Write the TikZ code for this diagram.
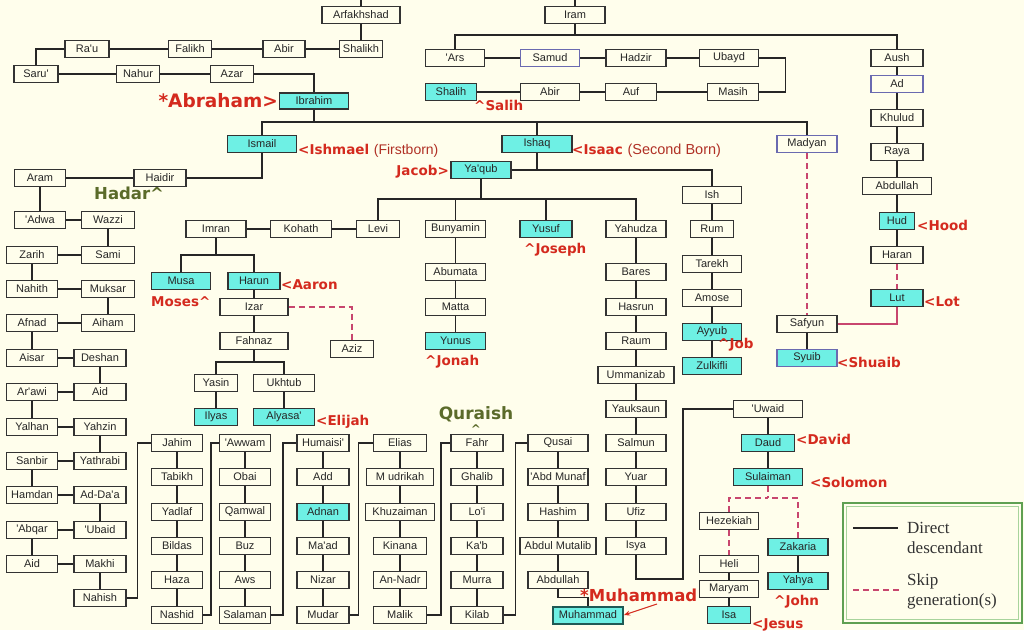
\documentclass[tikz,border=0pt]{standalone}
\usepackage{fontspec}
\newfontfamily\boxf{Liberation Sans}
\newfontfamily\labf{DejaVu Sans}
\newfontfamily\regf{Liberation Sans}
\newfontfamily\legf{Liberation Serif}
\usetikzlibrary{arrows.meta}
\definecolor{bgc}{HTML}{FFFEEC}
\definecolor{cyc}{HTML}{6EF0E4}
\definecolor{boxc}{HTML}{333333}
\definecolor{bluec}{HTML}{6A6AB0}
\definecolor{redc}{HTML}{D42A1E}
\definecolor{redd}{HTML}{B03025}
\definecolor{olivec}{HTML}{5B6B2A}
\definecolor{dashc}{HTML}{C8466E}
\definecolor{legc}{HTML}{5FA052}
\definecolor{legl}{HTML}{A8D49C}
\definecolor{tealc}{HTML}{1F5A55}
\tikzset{
  bx/.style={draw=boxc, line width=1.1pt, fill=bgc, minimum height=17pt, inner sep=0pt,
     font=\boxf\fontsize{11}{12}\selectfont, text=black!85},
  cy/.style={bx, fill=cyc},
  bl/.style={draw=bluec},
  wd/.style={minimum width=#1pt},
  ln/.style={line width=1.8pt, black!85},
  dl/.style={line width=1.8pt, dashc, dash pattern=on 6pt off 4pt},
  lab/.style={text=redc, inner sep=0pt, font=\labf\bfseries\fontsize{13.5}{15}\selectfont},
  labbig/.style={text=redc, inner sep=0pt, font=\labf\bfseries\fontsize{18.5}{20}\selectfont},
  olab/.style={text=olivec, inner sep=0pt, font=\labf\bfseries\fontsize{16.5}{18}\selectfont},
  legt/.style={text=black!80, inner sep=0pt, align=left, font=\legf\fontsize{17}{20}\selectfont}
}
\begin{document}
\begin{tikzpicture}[x=1pt,y=-1pt]
\fill[bgc] (0,0) rectangle (1024,630);
\useasboundingbox (0,0) rectangle (1024,630);

% ---- top
\node[bx,wd=78] (arf) at (361,15) {Arfakhshad};
\node[bx,wd=60] (iram) at (575,15) {Iram};
\node[bx,wd=43] (shalikh) at (361,49) {Shalikh};
\node[bx,wd=42] (abirL) at (284,49) {Abir};
\node[bx,wd=43] (falikh) at (190,49) {Falikh};
\node[bx,wd=44] (rau) at (87,49) {Ra'u};
\node[bx,wd=44] (saru) at (36,74) {Saru'};
\node[bx,wd=43] (nahur) at (138,74) {Nahur};
\node[bx,wd=43] (azar) at (232,74) {Azar};
\node[cy,wd=69,minimum height=16pt] (ibrahim) at (314,101) {Ibrahim};
\node[cy,wd=69] (ismail) at (262,144) {Ismail};
\node[cy,wd=70] (ishaq) at (537,144) {Ishaq};
\node[cy,wd=60] (yaqub) at (481,170) {Ya'qub};
\node[bx,bl,wd=60] (madyan) at (807,144) {Madyan};
\node[bx,wd=59] (ish) at (712,195) {Ish};
\node[bx,wd=52] (haidir) at (160,178) {Haidir};
\node[bx,wd=51] (aram) at (40,178) {Aram};

% ---- Iram branch
\node[bx,wd=59] (ars) at (455,58) {'Ars};
\node[bx,bl,wd=59] (samud) at (550,58) {Samud};
\node[bx,wd=60] (hadzir) at (636,58) {Hadzir};
\node[bx,wd=59] (ubayd) at (729,58) {Ubayd};
\node[bx,wd=51] (masih) at (733,92) {Masih};
\node[bx,wd=51] (auf) at (631,92) {Auf};
\node[bx,wd=59] (abirR) at (550,92) {Abir};
\node[cy,wd=51] (shalih) at (451,92) {Shalih};
\node[bx,wd=52] (aush) at (897,58) {Aush};
\node[bx,bl,wd=52] (ad) at (897,84) {Ad};
\node[bx,wd=52] (khulud) at (897,118) {Khulud};
\node[bx,wd=52] (raya) at (897,152) {Raya};
\node[bx,wd=69] (abdullahR) at (897,186) {Abdullah};
\node[cy,wd=35] (hud) at (897,221) {Hud};
\node[bx,wd=52] (haran) at (897,255) {Haran};
\node[cy,wd=52] (lut) at (897,298) {Lut};
\node[bx,wd=60] (safyun) at (807,324) {Safyun};
\node[cy,bl,wd=60] (syuib) at (807,358) {Syuib};

% ---- Ish column
\node[bx,wd=43] (rum) at (712,229) {Rum};
\node[bx,wd=59] (tarekh) at (712,264) {Tarekh};
\node[bx,wd=59] (amose) at (712,298) {Amose};
\node[cy,wd=59] (ayyub) at (712,332) {Ayyub};
\node[cy,wd=59] (zulkifli) at (712,366) {Zulkifli};

% ---- Ya'qub children
\node[bx,wd=43] (levi) at (378,229) {Levi};
\node[bx,wd=61] (kohath) at (301,229) {Kohath};
\node[bx,wd=60] (imran) at (216,229) {Imran};
\node[bx,wd=60] (bunyamin) at (455.5,229) {Bunyamin};
\node[cy,wd=52] (yusuf) at (546,229) {Yusuf};
\node[bx,wd=60] (yahudza) at (636,229) {Yahudza};
\node[bx,wd=60] (abumata) at (455.5,272) {Abumata};
\node[bx,wd=60] (matta) at (455.5,307) {Matta};
\node[cy,wd=60] (yunus) at (455.5,341) {Yunus};
\node[bx,wd=60] (bares) at (636,272) {Bares};
\node[bx,wd=60] (hasrun) at (636,307) {Hasrun};
\node[bx,wd=60] (raum) at (636,341) {Raum};
\node[bx,wd=76] (ummanizab) at (636,375) {Ummanizab};
\node[bx,wd=60] (yauksaun) at (636,409) {Yauksaun};
\node[bx,wd=60] (salmun) at (636,443) {Salmun};
\node[bx,wd=60] (yuar) at (636,477) {Yuar};
\node[bx,wd=60] (ufiz) at (636,512) {Ufiz};
\node[bx,wd=60] (isya) at (636,546) {Isya};

% ---- 'Uwaid branch
\node[bx,wd=69] (uwaid) at (768,409) {'Uwaid};
\node[cy,wd=53] (daud) at (768,443) {Daud};
\node[cy,wd=69] (sulaiman) at (768,477) {Sulaiman};
\node[bx,wd=59] (hezekiah) at (729,521) {Hezekiah};
\node[bx,wd=59] (heli) at (729,564) {Heli};
\node[bx,wd=59] (maryam) at (729,589) {Maryam};
\node[cy,wd=43] (isa) at (729,615) {Isa};
\node[cy,wd=60] (zakaria) at (798,547) {Zakaria};
\node[cy,wd=60] (yahya) at (798,581) {Yahya};

% ---- Imran branch
\node[cy,wd=59] (musa) at (181,281) {Musa};
\node[cy,wd=52] (harun) at (254,281) {Harun};
\node[bx,wd=68] (izar) at (254,307) {Izar};
\node[bx,wd=43] (aziz) at (352,349) {Aziz};
\node[bx,wd=68] (fahnaz) at (254,341) {Fahnaz};
\node[bx,wd=43] (yasin) at (216,383) {Yasin};
\node[bx,wd=61] (ukhtub) at (284,383) {Ukhtub};
\node[cy,wd=43] (ilyas) at (216,417) {Ilyas};
\node[cy,wd=61] (alyasa) at (284,417) {Alyasa'};

% ---- left zigzag
\node[bx,wd=51] (adwa) at (40,220) {'Adwa};
\node[bx,wd=53] (wazzi) at (108,220) {Wazzi};
\node[bx,wd=53] (sami) at (108,255) {Sami};
\node[bx,wd=51] (zarih) at (32,255) {Zarih};
\node[bx,wd=51] (nahith) at (32,289) {Nahith};
\node[bx,wd=53] (muksar) at (108,289) {Muksar};
\node[bx,wd=53] (aiham) at (108,323) {Aiham};
\node[bx,wd=51] (afnad) at (32,323) {Afnad};
\node[bx,wd=51] (aisar) at (32,358) {Aisar};
\node[bx,wd=52] (deshan) at (100,358) {Deshan};
\node[bx,wd=52] (aidU) at (100,392) {Aid};
\node[bx,wd=51] (arawi) at (32,392) {Ar'awi};
\node[bx,wd=51] (yalhan) at (32,427) {Yalhan};
\node[bx,wd=52] (yahzin) at (100,427) {Yahzin};
\node[bx,wd=52] (yathrabi) at (100,461) {Yathrabi};
\node[bx,wd=51] (sanbir) at (32,461) {Sanbir};
\node[bx,wd=51] (hamdan) at (32,495) {Hamdan};
\node[bx,wd=52] (addaa) at (100,495) {Ad-Da'a};
\node[bx,wd=52] (ubaid) at (100,530) {'Ubaid};
\node[bx,wd=51] (abqar) at (32,530) {'Abqar};
\node[bx,wd=51] (aidL) at (32,564) {Aid};
\node[bx,wd=52] (makhi) at (100,564) {Makhi};
\node[bx,wd=52] (nahish) at (100,598) {Nahish};

% ---- bottom columns
\node[bx,wd=51] (jahim) at (177,443) {Jahim};
\node[bx,wd=51] (tabikh) at (177,477) {Tabikh};
\node[bx,wd=51] (yadlaf) at (177,512) {Yadlaf};
\node[bx,wd=51] (bildas) at (177,546) {Bildas};
\node[bx,wd=51] (haza) at (177,580) {Haza};
\node[bx,wd=51] (nashid) at (177,615) {Nashid};
\node[bx,wd=51] (awwam) at (245,443) {'Awwam};
\node[bx,wd=51] (obai) at (245,477) {Obai};
\node[bx,wd=51] (qamwal) at (245,512) {Qamwal};
\node[bx,wd=51] (buz) at (245,546) {Buz};
\node[bx,wd=51] (aws) at (245,580) {Aws};
\node[bx,wd=51] (salaman) at (245,615) {Salaman};
\node[bx,wd=52] (humaisi) at (323,443) {Humaisi'};
\node[bx,wd=52] (add) at (323,477) {Add};
\node[cy,wd=52] (adnan) at (323,512) {Adnan};
\node[bx,wd=52] (maad) at (323,546) {Ma'ad};
\node[bx,wd=52] (nizar) at (323,580) {Nizar};
\node[bx,wd=52] (mudar) at (323,615) {Mudar};
\node[bx,wd=53] (elias) at (400,443) {Elias};
\node[bx,wd=67] (mudrikah) at (400,477) {M udrikah};
\node[bx,wd=69] (khuzaiman) at (400,512) {Khuzaiman};
\node[bx,wd=53] (kinana) at (400,546) {Kinana};
\node[bx,wd=53] (annadr) at (400,580) {An-Nadr};
\node[bx,wd=53] (malik) at (400,615) {Malik};
\node[bx,wd=52] (fahr) at (477,443) {Fahr};
\node[bx,wd=52] (ghalib) at (477,477) {Ghalib};
\node[bx,wd=52] (loi) at (477,512) {Lo'i};
\node[bx,wd=52] (kab) at (477,546) {Ka'b};
\node[bx,wd=52] (murra) at (477,580) {Murra};
\node[bx,wd=52] (kilab) at (477,615) {Kilab};
\node[bx,wd=60] (qusai) at (558,443) {Qusai};
\node[bx,wd=60] (abdmunaf) at (558,477) {'Abd Munaf};
\node[bx,wd=60] (hashim) at (558,512) {Hashim};
\node[bx,wd=76] (abdmutalib) at (558,546) {Abdul Mutalib};
\node[bx,wd=60] (abdullahM) at (558,580) {Abdullah};
\node[cy,wd=70,draw=tealc,line width=2pt] (muhammad) at (588,615) {Muhammad};

% ---- connectors: top
\coordinate (arfTop) at (361,0);
\coordinate (iramTop) at (575,0);
\draw[ln] (arf.north) -- (arfTop);
\draw[ln] (iram.north) -- (iramTop);
\foreach \a/\b in {arf/shalikh, shalikh/abirL, abirL/falikh, falikh/rau, saru/nahur, nahur/azar}
  \draw[ln] (\a) -- (\b);
\draw[ln] (rau.west) -| (saru.north);
\draw[ln] (azar.east) -| (ibrahim.north);
\coordinate (ab) at (314,122);
\draw[ln] (ibrahim.south) -- (ab);
\draw[ln] (ismail.north) |- (ab);
\draw[ln] (ab) -| (madyan.north);
\draw[ln] (ishaq.north) -- (ishaq.north |- ab);
\draw[ln] (ismail.south) |- (haidir.east);
\draw[ln] (haidir) -- (aram);
\draw[ln] (aram) -- (adwa);
\draw[ln] (ishaq.south) |- (yaqub.east);
\draw[ln] (yaqub.east) -| (ish.north);
\coordinate (yb) at (481,199);
\draw[ln] (yaqub.south) -- (yb);
\draw[ln] (levi.north) |- (yb);
\draw[ln] (yahudza.north) |- (yb);
\draw[ln] (bunyamin.north) -- (bunyamin.north |- yb);
\draw[ln] (yusuf.north) -- (yusuf.north |- yb);
\foreach \a/\b in {levi/kohath, kohath/imran, harun/izar, izar/fahnaz, yasin/ilyas, ukhtub/alyasa,
  bunyamin/abumata, abumata/matta, matta/yunus,
  yahudza/bares, bares/hasrun, hasrun/raum, raum/ummanizab, ummanizab/yauksaun, yauksaun/salmun,
  salmun/yuar, yuar/ufiz, ufiz/isya,
  ish/rum, rum/tarekh, tarekh/amose, amose/ayyub, ayyub/zulkifli,
  safyun/syuib, uwaid/daud, daud/sulaiman, heli/maryam, maryam/isa, zakaria/yahya}
  \draw[ln] (\a) -- (\b);
\coordinate (ib) at (216,255);
\draw[ln] (imran.south) -- (ib);
\draw[ln] (musa.north) |- (ib);
\draw[ln] (harun.north) |- (ib);
\coordinate (fb) at (254,362);
\draw[ln] (fahnaz.south) -- (fb);
\draw[ln] (yasin.north) |- (fb);
\draw[ln] (ukhtub.north) |- (fb);
\draw[dl] (izar.east) -| (aziz.north);
\draw[dl] (madyan.south) -- (safyun.north);

% Iram branch
\coordinate (ir) at (575,35);
\draw[ln] (iram.south) -- (ir);
\draw[ln] (ars.north) |- (ir);
\draw[ln] (aush.north) |- (ir);
\foreach \a/\b in {ars/samud, samud/hadzir, hadzir/ubayd, shalih/abirR, abirR/auf, auf/masih,
  aush/ad, ad/khulud, khulud/raya, raya/abdullahR, abdullahR/hud, hud/haran}
  \draw[ln] (\a) -- (\b);
\draw[ln] (ubayd.east) -- ++(26.5,0) |- (masih.east);
\draw[dl] (haran) -- (lut);
\draw[line width=1.5pt, dashc] (lut.south) |- (safyun.east);

% 'Uwaid branch
\coordinate (c1) at (683,579);
\draw[ln] (isya.south) |- (c1) |- (uwaid.west);
\coordinate (sb) at (768,498);
\draw[dl] (sulaiman.south) -- (sb);
\draw[dl] (hezekiah.north) |- (sb);
\draw[dl] (zakaria.north) |- (sb);
\draw[dl] (hezekiah) -- (heli);

% left zigzag
\foreach \a/\b in {adwa/wazzi, wazzi/sami, sami/zarih, zarih/nahith, nahith/muksar, muksar/aiham,
  aiham/afnad, afnad/aisar, aisar/deshan, deshan/aidU, aidU/arawi, arawi/yalhan, yalhan/yahzin,
  yahzin/yathrabi, yathrabi/sanbir, sanbir/hamdan, hamdan/addaa, addaa/ubaid, ubaid/abqar,
  abqar/aidL, aidL/makhi, makhi/nahish}
  \draw[ln] (\a) -- (\b);

% bottom columns
\foreach \a/\b in {jahim/tabikh, tabikh/yadlaf, yadlaf/bildas, bildas/haza, haza/nashid,
  awwam/obai, obai/qamwal, qamwal/buz, buz/aws, aws/salaman,
  humaisi/add, add/adnan, adnan/maad, maad/nizar, nizar/mudar,
  elias/mudrikah, mudrikah/khuzaiman, khuzaiman/kinana, kinana/annadr, annadr/malik,
  fahr/ghalib, ghalib/loi, loi/kab, kab/murra, murra/kilab,
  qusai/abdmunaf, abdmunaf/hashim, hashim/abdmutalib, abdmutalib/abdullahM}
  \draw[ln] (\a) -- (\b);
\draw[ln] (nahish.east) -- ++(11,0) |- (jahim.west);
\draw[ln] (nashid.east) -- ++(8,0) |- (awwam.west);
\draw[ln] (salaman.east) -- ++(12,0) |- (humaisi.west);
\draw[ln] (mudar.east) -- ++(9,0) |- (elias.west);
\draw[ln] (malik.east) -- ++(14,0) |- (fahr.west);
\draw[ln] (kilab.east) -- ++(12,0) |- (qusai.west);
\draw[ln] (abdullahM.south) -- ++(0,8.5) -| (muhammad.north);

% ---- labels
\node[labbig,anchor=east] (lAbr) at (278,101) {*Abraham>};
\node[lab,anchor=west] (lIsh) at (298,151) {<Ishmael {\regf\mdseries\fontsize{14}{16}\selectfont\color{redd}(Firstborn)}};
\node[lab,anchor=west] (lIsa) at (572,151) {<Isaac {\regf\mdseries\fontsize{14.5}{16}\selectfont\color{redd}(Second Born)}};
\node[lab,anchor=east] (lJac) at (449,172) {Jacob>};
\node[lab,anchor=west] (lSal) at (474,105) {\textasciicircum Salih};
\node[olab,anchor=west] (lHad) at (94,193) {Hadar\textasciicircum};
\node[lab,anchor=west] (lHood) at (917,225) {<Hood};
\node[lab,anchor=west] (lLot) at (924,302) {<Lot};
\node[lab,anchor=west] (lShu) at (837,362) {<Shuaib};
\node[lab,anchor=west] (lJob) at (718,345) {\textasciicircum Job};
\node[lab,anchor=west] (lJos) at (524,250) {\textasciicircum Joseph};
\node[lab,anchor=west] (lJon) at (425,362) {\textasciicircum Jonah};
\node[lab,anchor=west] (lAar) at (281,285) {<Aaron};
\node[lab,anchor=west] (lMos) at (151,302) {Moses\textasciicircum};
\node[lab,anchor=west] (lEli) at (316,422) {<Elijah};
\node[olab,font=\labf\bfseries\fontsize{17}{18}\selectfont] (lQur) at (476,414) {Quraish};
\node[olab,font=\labf\bfseries\fontsize{12}{13}\selectfont] (lQc) at (476,429) {\textasciicircum};
\node[lab,anchor=west] (lDav) at (796,439) {<David};
\node[lab,anchor=west] (lSol) at (810,482) {<Solomon};
\node[lab,anchor=west] (lJohn) at (774,602) {\textasciicircum John};
\node[lab,anchor=west] (lJes) at (752,625) {<Jesus};
\node[labbig,font=\labf\bfseries\fontsize{16.5}{18}\selectfont,anchor=west] (lMuh) at (580,595) {*Muhammad};
\coordinate (marr) at (657,604);
\draw[redc, line width=1pt, -{Stealth[length=6pt,width=5pt]}] (marr) -- (muhammad.east);

% ---- legend
\draw[legc, line width=2.4pt] (843,503) rectangle (1022,623);
\draw[legl, line width=0.8pt] (846.5,506.5) rectangle (1018.5,619.5);
\coordinate (l1a) at (853,528);
\coordinate (l1b) at (898,528);
\coordinate (l2a) at (853,590);
\coordinate (l2b) at (900,590);
\draw[ln] (l1a) -- (l1b);
\draw[dl] (l2a) -- (l2b);
\node[legt,anchor=west] (leg1) at (907,538) {Direct\\descendant};
\node[legt,anchor=west] (leg2) at (907,591) {Skip\\generation(s)};
\end{tikzpicture}
\end{document}
